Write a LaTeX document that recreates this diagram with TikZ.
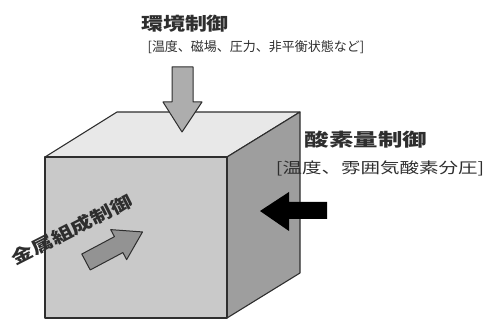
\documentclass[tikz,border=0pt]{standalone}
\usepackage{fontspec}
\newfontfamily\jp{Noto Sans CJK JP}
\usetikzlibrary{shapes,backgrounds}
\usetikzlibrary{arrows}

\definecolor{frontgray}{gray}{0.79}
\definecolor{topgray}{gray}{0.91}
\definecolor{sidegray}{gray}{0.62}
\definecolor{arrowgray}{gray}{0.68}
\definecolor{inkgray}{gray}{0.18}

\newcommand{\wide}[2]{\scalebox{#1}[1]{#2}}

\begin{document}
\begin{tikzpicture}[x=1pt,y=-1pt,
	face/.style={draw=inkgray,line width=1.1pt,line join=round},
	label/.style={inner sep=0pt,text=inkgray,font=\jp}]
	\useasboundingbox (0,0) rectangle (491,320);
	% cube
	\draw [face,fill=topgray] (45,157) -- (117,112) -- (300,112) -- (227,157) -- cycle;
	\draw [face,fill=sidegray] (227,157) -- (300,112) -- (300,273) -- (227,318) -- cycle;
	\draw [face,fill=frontgray] (45,157) rectangle (227,318);
	% arrows
	\draw [face,fill=arrowgray,line width=1pt] (172,67) -- (193,67) -- (193,102) -- (202,102) -- (182,132) -- (163,102) -- (172,102) -- cycle;
	\fill [black] (327,202) -- (327,219) -- (289,219) -- (289,231) -- (260,211) -- (289,192) -- (289,202) -- cycle;
	\begin{scope}[shift={(86,262)},rotate=28]
		\draw [face,fill=arrowgray!85!black,line width=1pt] (0,-9) -- (37,-9) -- (37,-17) -- (64,0) -- (37,17) -- (37,9) -- (0,9) -- cycle;
	\end{scope}
	% labels
	\node [label,font=\jp\bfseries\fontsize{18}{18}\selectfont] (env) at (185,24) {\wide{1.22}{環境制御}};
	\node [label,font=\jp\fontsize{13}{13}\selectfont] (envsub) at (256,47) {\wide{1.0}{[温度、磁場、圧力、非平衡状態など]}};
	\node [label,font=\jp\bfseries\fontsize{18}{18}\selectfont] (oxy) at (366,140) {\wide{1.36}{酸素量制御}};
	\node [label,font=\jp\fontsize{15}{15}\selectfont] (oxysub) at (380,168) {\wide{1.3}{[温度、雰囲気酸素分圧]}};
	\node [label,font=\jp\bfseries\fontsize{17}{17}\selectfont,rotate=27] (metal) at (72,230) {\wide{1.3}{金属組成制御}};
\end{tikzpicture}
\end{document}
